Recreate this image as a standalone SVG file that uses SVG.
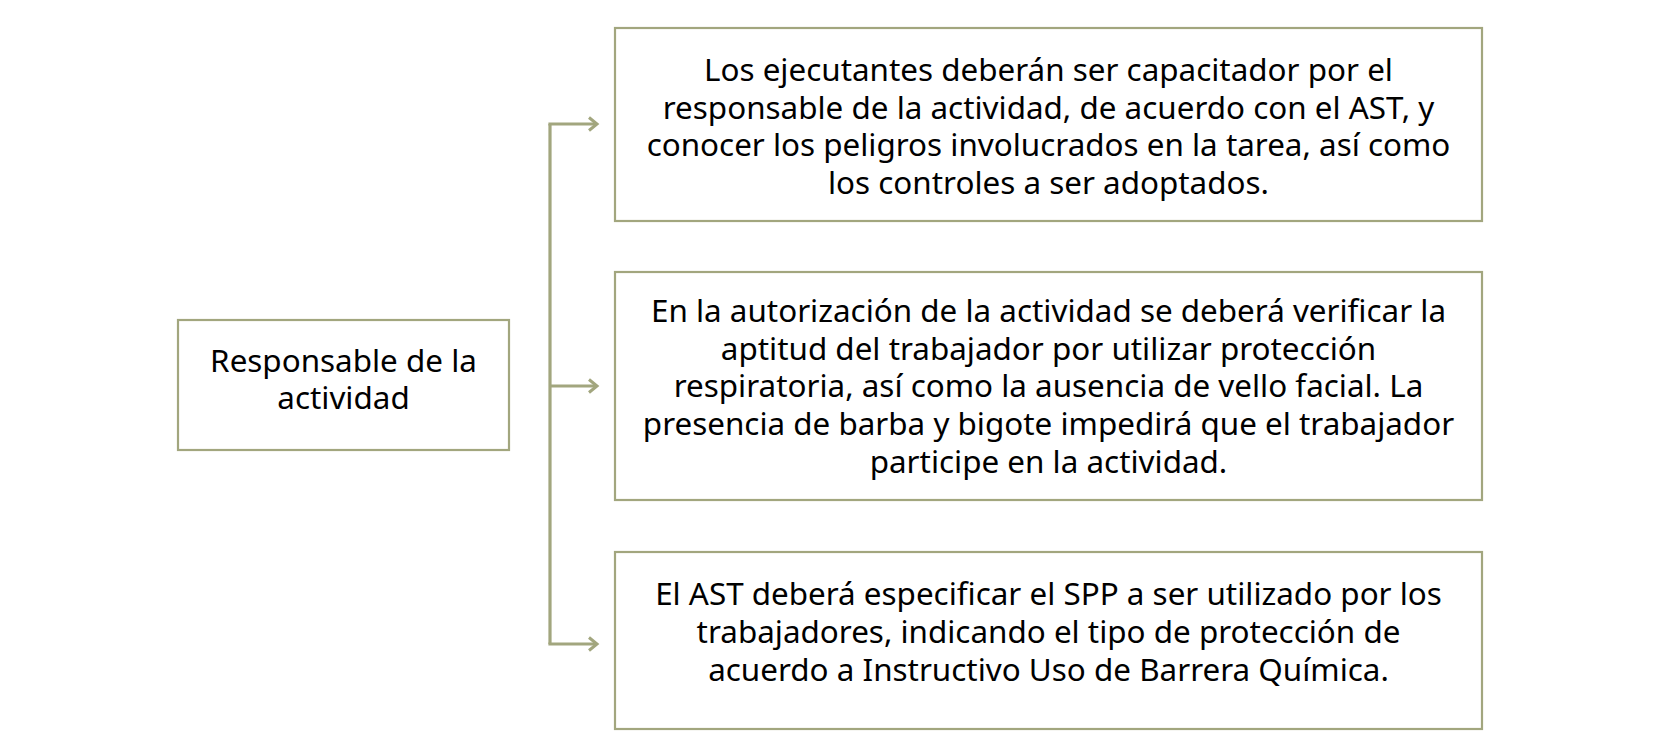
<svg xmlns="http://www.w3.org/2000/svg" width="1680" height="756" viewBox="0 0 1680 756">
<style>
.box{fill:#ffffff;stroke:#a2a67e;stroke-width:2.2}
.t{font-family:"Noto Sans","Open Sans",sans-serif;font-size:31.4px;fill:#000000;text-anchor:middle}
.c{fill:none;stroke:#a2a67e;stroke-width:3.2}
</style>
<defs>
<marker id="arr" viewBox="0 0 14 16" refX="11" refY="8" markerWidth="14" markerHeight="16" markerUnits="userSpaceOnUse" orient="auto">
<path d="M3,1.5 L11,8 L3,14.5" fill="none" stroke="#a2a67e" stroke-width="3"/>
</marker>
</defs>
<rect width="1680" height="756" fill="#ffffff"/>
<g id="connectors">
<path class="c" d="M550,124 L550,644"/>
<path class="c" d="M548.4,124 L597,124" marker-end="url(#arr)"/>
<path class="c" d="M550,386 L597,386" marker-end="url(#arr)"/>
<path class="c" d="M548.4,644 L597,644" marker-end="url(#arr)"/>
</g>
<g id="node-left">
<rect class="box" x="178" y="320" width="331" height="130"/>
<text class="t" x="343.5" y="372">Responsable de la</text>
<text class="t" x="343.5" y="409">actividad</text>
</g>
<g id="node-1">
<rect class="box" x="615" y="28" width="867" height="193"/>
<text class="t" x="1048.5" y="81">Los ejecutantes deberán ser capacitador por el</text>
<text class="t" x="1048.5" y="119">responsable de la actividad, de acuerdo con el AST, y</text>
<text class="t" x="1048.5" y="156">conocer los peligros involucrados en la tarea, así como</text>
<text class="t" x="1048.5" y="194">los controles a ser adoptados.</text>
</g>
<g id="node-2">
<rect class="box" x="615" y="272" width="867" height="228"/>
<text class="t" x="1048.5" y="322">En la autorización de la actividad se deberá verificar la</text>
<text class="t" x="1048.5" y="360">aptitud del trabajador por utilizar protección</text>
<text class="t" x="1048.5" y="397">respiratoria, así como la ausencia de vello facial. La</text>
<text class="t" x="1048.5" y="435">presencia de barba y bigote impedirá que el trabajador</text>
<text class="t" x="1048.5" y="473">participe en la actividad.</text>
</g>
<g id="node-3">
<rect class="box" x="615" y="552" width="867" height="177"/>
<text class="t" x="1048.5" y="605">El AST deberá especificar el SPP a ser utilizado por los</text>
<text class="t" x="1048.5" y="643">trabajadores, indicando el tipo de protección de</text>
<text class="t" x="1048.5" y="681">acuerdo a Instructivo Uso de Barrera Química.</text>
</g>
</svg>
